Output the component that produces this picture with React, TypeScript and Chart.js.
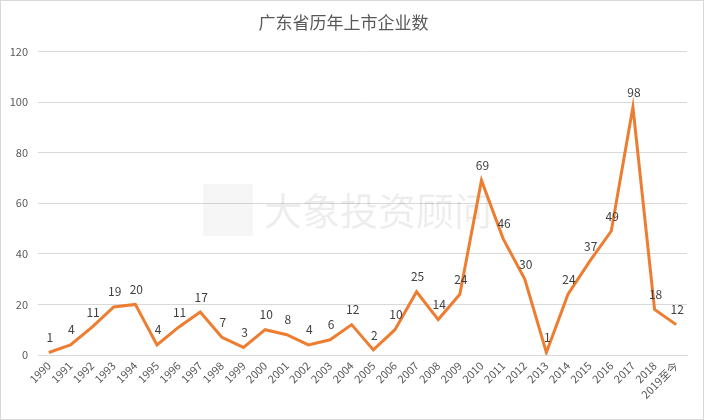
import React, { useEffect, useRef } from "react";
import { Chart, registerables } from "chart.js";

Chart.register(...registerables);

const TITLE = "广东省历年上市企业数";
const WATERMARK = "大象投资顾问";
const categories = [
  "1990", "1991", "1992", "1993", "1994", "1995", "1996", "1997", "1998", "1999",
  "2000", "2001", "2002", "2003", "2004", "2005", "2006", "2007", "2008", "2009",
  "2010", "2011", "2012", "2013", "2014", "2015", "2016", "2017", "2018", "2019至今",
];
const values = [
  1, 4, 11, 19, 20, 4, 11, 17, 7, 3,
  10, 8, 4, 6, 12, 2, 10, 25, 14, 24,
  69, 46, 30, 1, 24, 37, 49, 98, 18, 12,
];
const yTicks = [0, 20, 40, 60, 80, 100, 120];

const FONT = "'Noto Sans CJK SC', 'Noto Sans', sans-serif";

const framePlugin = {
  id: "frame",
  beforeDraw(chart: any) {
    const { ctx, width, height } = chart;
    ctx.save();
    ctx.fillStyle = "#ffffff";
    ctx.fillRect(0, 0, width, height);
    ctx.strokeStyle = "#d9d9d9";
    ctx.lineWidth = 1;
    ctx.strokeRect(0.5, 0.5, width - 1, height - 1);
    ctx.restore();
  },
  beforeDatasetsDraw(chart: any) {
    const { ctx } = chart;
    ctx.save();
    ctx.fillStyle = "rgba(0,0,0,0.035)";
    ctx.fillRect(203, 184, 50, 52);
    ctx.fillStyle = "rgba(0,0,0,0.07)";
    ctx.font = `38px ${FONT}`;
    ctx.textBaseline = "middle";
    ctx.textAlign = "left";
    ctx.fillText(WATERMARK, 264, 211);
    ctx.restore();
  },
};

const labelPlugin = {
  id: "pointLabels",
  afterDatasetsDraw(chart: any) {
    const { ctx } = chart;
    const meta = chart.getDatasetMeta(0);
    ctx.save();
    ctx.fillStyle = "#404040";
    ctx.font = `12px ${FONT}`;
    ctx.textAlign = "center";
    ctx.textBaseline = "middle";
    meta.data.forEach((pt: any, i: number) => {
      ctx.fillText(String(values[i]), pt.x + 1, pt.y - 15);
    });
    ctx.restore();
  },
};

export default function App() {
  const ref = useRef<HTMLCanvasElement | null>(null);
  useEffect(() => {
    document.body.style.margin = "0";
    if (!ref.current) return;
    const chart = new Chart(ref.current, {
      type: "line",
      data: {
        labels: categories,
        datasets: [
          {
            data: values,
            borderColor: "#ED7D31",
            borderWidth: 3,
            pointRadius: 0,
            tension: 0,
            fill: false,
          },
        ],
      },
      options: {
        animation: false,
        responsive: false,
        layout: { padding: { left: 0, right: 17, top: 0, bottom: 0 } },
        plugins: {
          legend: { display: false },
          tooltip: { enabled: false },
          title: {
            display: true,
            text: TITLE,
            color: "#595959",
            font: { family: FONT, size: 17, weight: "normal", lineHeight: 1.2 },
            padding: { top: 12, bottom: 19 },
          },
        },
        scales: {
          x: {
            offset: true,
            grid: { display: false, drawTicks: false },
            border: { display: true, color: "#d9d9d9" },
            ticks: {
              color: "#595959",
              font: { family: FONT, size: 11 },
              minRotation: 45,
              maxRotation: 45,
              autoSkip: false,
              padding: 4,
            },
            afterFit(scale: any) {
              scale.height = 65;
            },
          },
          y: {
            min: 0,
            max: 120,
            afterBuildTicks(scale: any) {
              scale.ticks = yTicks.map((v) => ({ value: v }));
            },
            grid: { color: "#d9d9d9", drawTicks: false },
            border: { display: false },
            ticks: {
              color: "#595959",
              font: { family: FONT, size: 11 },
              padding: 10,
            },
            afterFit(scale: any) {
              scale.width = 38;
            },
          },
        },
      },
      plugins: [framePlugin, labelPlugin],
    });
    return () => chart.destroy();
  }, []);
  return (
    <div style={{ width: 704, height: 420 }}>
      <canvas ref={ref} width={704} height={420} style={{ display: "block" }} />
    </div>
  );
}
